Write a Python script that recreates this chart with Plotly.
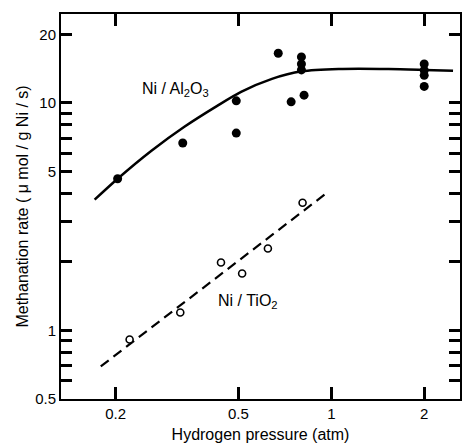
import math
import plotly.graph_objects as go

# Ni/Al2O3 measured points
al_x = [0.203, 0.33, 0.492, 0.492, 0.673, 0.80, 0.80, 0.80, 0.741, 0.816, 2.0, 2.0, 2.0, 2.0]
al_y = [4.64, 6.66, 10.2, 7.36, 16.5, 15.9, 14.8, 13.95, 10.1, 10.8, 14.8, 13.9, 13.2, 11.8]

# Ni/Al2O3 fitted curve
al_fit_x = [0.171, 0.203, 0.2613, 0.334, 0.4268, 0.510, 0.642, 0.802, 1.056, 1.531, 2.0, 2.48]
al_fit_y = [3.755, 4.64, 6.16, 7.85, 9.70, 11.17, 12.74, 13.75, 14.09, 14.09, 13.95, 13.81]

# Ni/TiO2 measured points
ti_x = [0.222, 0.324, 0.439, 0.514, 0.623, 0.807]
ti_y = [0.913, 1.2, 1.99, 1.78, 2.29, 3.64]

# Ni/TiO2 fitted line
ti_fit_x = [0.179, 0.951]
ti_fit_y = [0.695, 3.95]

x_ticks = [0.2, 0.5, 1, 2]
x_ticktext = ["0.2", "0.5", "1", "2"]
y_major = [0.5, 1, 5, 10, 20]
y_all = [0.5, 0.6, 0.7, 0.8, 0.9, 1, 2, 3, 4, 5, 6, 7, 8, 9, 10, 20]
y_all_text = ["0.5", "", "", "", "", "1", "", "", "", "5", "", "", "", "", "10", "20"]

FONT = "Liberation Sans, Arial, Helvetica, sans-serif"
Y_RANGE = [-0.301, 1.390]
TICK = "#000000"

fig = go.Figure()
fig.add_trace(go.Scatter(x=al_fit_x, y=al_fit_y, mode="lines",
                         line=dict(color="black", width=2.5, shape="spline", smoothing=0.8),
                         showlegend=False, hoverinfo="skip"))
fig.add_trace(go.Scatter(x=ti_fit_x, y=ti_fit_y, mode="lines",
                         line=dict(color="black", width=2.2, dash="10px,6px"),
                         showlegend=False, hoverinfo="skip"))
fig.add_trace(go.Scatter(x=al_x, y=al_y, mode="markers",
                         marker=dict(color="black", size=9, symbol="circle"),
                         showlegend=False))
fig.add_trace(go.Scatter(x=ti_x, y=ti_y, mode="markers",
                         marker=dict(color="white", size=7, symbol="circle",
                                     line=dict(color="black", width=1.6)),
                         showlegend=False))

fig.add_annotation(x=math.log10(0.312), y=math.log10(11.4), xref="x", yref="y",
                   text="Ni / Al<sub>2</sub>O<sub>3</sub>", showarrow=False,
                   font=dict(family=FONT, size=16, color="black"))
fig.add_annotation(x=math.log10(0.537), y=math.log10(1.34), xref="x", yref="y",
                   text="Ni / TiO<sub>2</sub>", showarrow=False,
                   font=dict(family=FONT, size=16, color="black"))

fig.update_layout(
    width=465, height=447,
    margin=dict(l=61, r=3, t=14, b=48),
    paper_bgcolor="white", plot_bgcolor="white",
    font=dict(family=FONT, color="black"),
    showlegend=False,
    xaxis=dict(type="log", range=[-0.876, 0.417],
               tickvals=x_ticks, ticktext=x_ticktext,
               ticks="inside", ticklen=12, tickwidth=2.5, tickcolor=TICK,
               showline=True, linewidth=2, linecolor="black", mirror="ticks",
               tickfont=dict(family=FONT, size=15, color="black"),
               title=dict(text="Hydrogen pressure (atm)", standoff=8,
                          font=dict(family=FONT, size=16, color="black"))),
    yaxis=dict(type="log", range=Y_RANGE,
               tickvals=y_all, ticktext=y_all_text,
               ticks="inside", ticklen=11, tickwidth=2.5, tickcolor=TICK,
               showline=True, linewidth=2, linecolor="black", mirror="ticks",
               tickfont=dict(family=FONT, size=15, color="black"),
               title=dict(text="Methanation rate ( \u03bc mol / g Ni / s)", standoff=3,
                          font=dict(family=FONT, size=16, color="black"))),
)
fig.update_xaxes(showgrid=False, zeroline=False)
fig.update_yaxes(showgrid=False, zeroline=False)

fig.write_html("out.html")
